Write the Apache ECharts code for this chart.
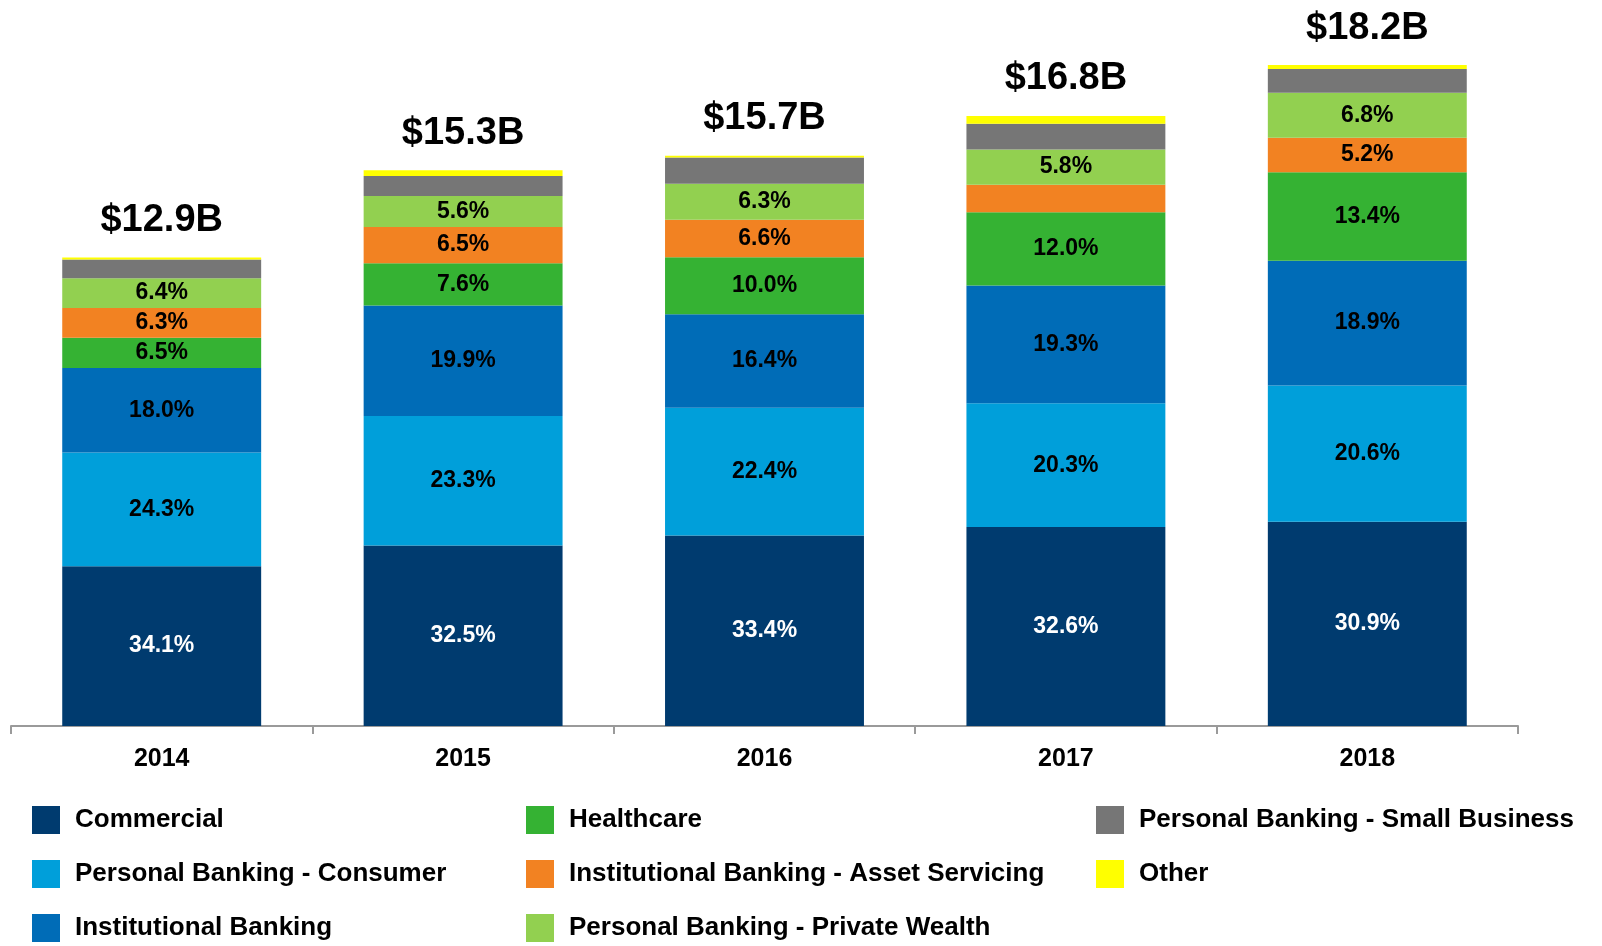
<!DOCTYPE html>
<html>
<head>
<meta charset="utf-8">
<script src="https://cdn.jsdelivr.net/npm/echarts@6/dist/echarts.min.js"></script>
<style>
  html, body { margin: 0; padding: 0; background: #fff; }
  #chart { width: 1602px; height: 946px; }
</style>
</head>
<body>
<div id="chart"></div>
<script>
// years and totals ($B)
const years = ['2014', '2015', '2016', '2017', '2018'];
const totals = [12.9, 15.3, 15.7, 16.8, 18.2];
const totalLabels = ['$12.9B', '$15.3B', '$15.7B', '$16.8B', '$18.2B'];

// share of each segment, % of the year's total
const commercial = [34.1, 32.5, 33.4, 32.6, 30.9];
const consumer = [24.3, 23.3, 22.4, 20.3, 20.6];
const institutional = [18.0, 19.9, 16.4, 19.3, 18.9];
const healthcare = [6.5, 7.6, 10.0, 12.0, 13.4];
const assetServicing = [6.3, 6.5, 6.6, 4.5, 5.2];
const privateWealth = [6.4, 5.6, 6.3, 5.8, 6.8];
const smallBusiness = [4.0, 3.6, 4.6, 4.2, 3.6];
const other = [0.4, 1.0, 0.3, 1.3, 0.6];

// which shares carry a printed label
const assetServicingShown = [true, true, true, false, true];

const segments = [
  { name: 'Commercial', pct: commercial, color: '#003B6F', text: '#ffffff', show: true },
  { name: 'Personal Banking - Consumer', pct: consumer, color: '#009FDA', text: '#000', show: true },
  { name: 'Institutional Banking', pct: institutional, color: '#006CB7', text: '#000', show: true },
  { name: 'Healthcare', pct: healthcare, color: '#35B233', text: '#000', show: true },
  { name: 'Institutional Banking - Asset Servicing', pct: assetServicing, color: '#F28222', text: '#000', show: true, shownList: assetServicingShown },
  { name: 'Personal Banking - Private Wealth', pct: privateWealth, color: '#92D050', text: '#000', show: true },
  { name: 'Personal Banking - Small Business', pct: smallBusiness, color: '#767676', text: '#000', show: false },
  { name: 'Other', pct: other, color: '#FFFF00', text: '#000', show: false }
];

const font = 'Liberation Sans, Arial, sans-serif';

let myChart = echarts.init(document.getElementById('chart'));

let series = segments.map(function (s, si) {
  const last = si === segments.length - 1;
  return {
    name: s.name,
    type: 'bar',
    stack: 'total',
    barCategoryGap: '34%',
    itemStyle: { color: s.color },
    data: s.pct.map(function (p, i) {
      const item = { value: +(p * totals[i] / 100).toFixed(4) };
      if (s.shownList && !s.shownList[i]) item.label = { show: false };
      return item;
    }),
    label: last ? {
      show: true,
      position: 'top',
      distance: 18,
      formatter: function (d) { return totalLabels[d.dataIndex]; },
      color: '#000',
      fontFamily: font,
      fontWeight: 'bold',
      fontSize: 38
    } : {
      show: s.show,
      position: 'inside',
      formatter: function (d) { return s.pct[d.dataIndex].toFixed(1) + '%'; },
      color: s.text,
      fontFamily: font,
      fontWeight: 'bold',
      fontSize: 23
    },
    emphasis: { disabled: true }
  };
});

function legendCol(left, names) {
  return {
    orient: 'vertical',
    left: left,
    top: 806,
    padding: 0,
    itemWidth: 28,
    itemHeight: 28,
    itemGap: 26,
    icon: 'rect',
    data: names,
    textStyle: { fontFamily: font, fontWeight: 'bold', fontSize: 26, color: '#000', padding: [0, 0, 0, 10] }
  };
}

let option = {
  animation: false,
  backgroundColor: '#ffffff',
  grid: { left: 11, right: 84, top: 36, bottom: 220 },
  legend: [
    legendCol(32, ['Commercial', 'Personal Banking - Consumer', 'Institutional Banking']),
    legendCol(526, ['Healthcare', 'Institutional Banking - Asset Servicing', 'Personal Banking - Private Wealth']),
    legendCol(1096, ['Personal Banking - Small Business', 'Other'])
  ],
  xAxis: {
    type: 'category',
    data: years,
    axisLine: { lineStyle: { color: '#9a9a9a', width: 2 } },
    axisTick: { show: true, length: 8, lineStyle: { color: '#9a9a9a', width: 2 } },
    axisLabel: { color: '#000', fontFamily: font, fontWeight: 'bold', fontSize: 25, margin: 21 }
  },
  yAxis: {
    type: 'value',
    min: 0,
    max: 19,
    show: false,
    splitLine: { show: false }
  },
  series: series
};

myChart.setOption(option);
</script>
</body>
</html>
